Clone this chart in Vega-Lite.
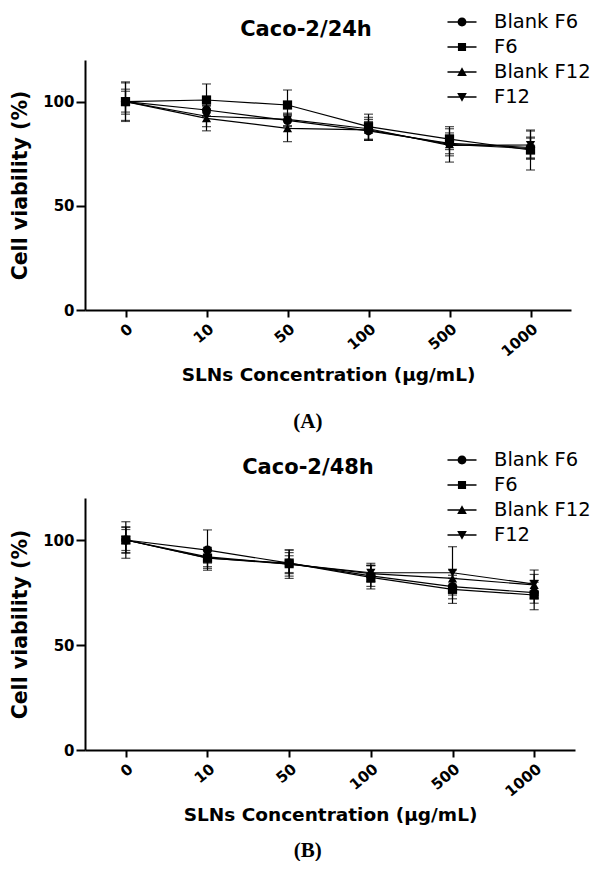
{
  "$schema": "https://vega.github.io/schema/vega-lite/v6.json",
  "background": "white",
  "padding": {"left": 10, "top": 12, "right": 0, "bottom": 0},
  "autosize": {"type": "pad"},
  "config": {
    "view": {"stroke": null},
    "axis": {"domainColor": "black", "domainWidth": 2, "tickColor": "black", "tickWidth": 2, "labelFont": "DejaVu Sans", "labelFontWeight": "bold", "labelFontSize": 15, "labelColor": "black", "titleFont": "DejaVu Sans", "titleFontWeight": "bold", "titleFontSize": 18.5, "titleColor": "black", "grid": false},
    "legend": {"symbolSize": 374, "labelFont": "DejaVu Sans", "labelFontSize": 19.5, "labelColor": "black", "labelOffset": 22, "rowPadding": 5, "padding": 0, "orient": "none", "symbolOpacity": 1, "symbolFillColor": "black", "symbolStrokeWidth": 0, "symbolStrokeColor": "transparent"},
    "title": {"color": "black"}
  },
  "datasets": {
    "a": [
      {"series": "Blank F6", "conc": 0, "mean": 100, "sd": 9},
      {"series": "Blank F6", "conc": 10, "mean": 96, "sd": 3},
      {"series": "Blank F6", "conc": 50, "mean": 91, "sd": 3},
      {"series": "Blank F6", "conc": 100, "mean": 86, "sd": 4.5},
      {"series": "Blank F6", "conc": 500, "mean": 80, "sd": 5},
      {"series": "Blank F6", "conc": 1000, "mean": 78, "sd": 5},
      {"series": "F6", "conc": 0, "mean": 100, "sd": 9.5},
      {"series": "F6", "conc": 10, "mean": 100.8, "sd": 7.7},
      {"series": "F6", "conc": 50, "mean": 98.4, "sd": 7.2},
      {"series": "F6", "conc": 100, "mean": 88, "sd": 6},
      {"series": "F6", "conc": 500, "mean": 82, "sd": 5},
      {"series": "F6", "conc": 1000, "mean": 76.8, "sd": 9.6},
      {"series": "Blank F12", "conc": 0, "mean": 100, "sd": 5},
      {"series": "Blank F12", "conc": 10, "mean": 92, "sd": 6},
      {"series": "Blank F12", "conc": 50, "mean": 87.2, "sd": 6.4},
      {"series": "Blank F12", "conc": 100, "mean": 86.5, "sd": 5},
      {"series": "Blank F12", "conc": 500, "mean": 79.5, "sd": 8.5},
      {"series": "Blank F12", "conc": 1000, "mean": 77.5, "sd": 5},
      {"series": "F12", "conc": 0, "mean": 100, "sd": 6},
      {"series": "F12", "conc": 10, "mean": 93, "sd": 5},
      {"series": "F12", "conc": 50, "mean": 91.5, "sd": 3},
      {"series": "F12", "conc": 100, "mean": 87, "sd": 5.5},
      {"series": "F12", "conc": 500, "mean": 79, "sd": 5},
      {"series": "F12", "conc": 1000, "mean": 79.2, "sd": 6.7}
    ],
    "b": [
      {"series": "Blank F6", "conc": 0, "mean": 100, "sd": 8.7},
      {"series": "Blank F6", "conc": 10, "mean": 95.2, "sd": 9.6},
      {"series": "Blank F6", "conc": 50, "mean": 89, "sd": 6.2},
      {"series": "Blank F6", "conc": 100, "mean": 82.9, "sd": 5},
      {"series": "Blank F6", "conc": 500, "mean": 77.8, "sd": 4},
      {"series": "Blank F6", "conc": 1000, "mean": 74.9, "sd": 5},
      {"series": "F6", "conc": 0, "mean": 100, "sd": 6},
      {"series": "F6", "conc": 10, "mean": 91.3, "sd": 4},
      {"series": "F6", "conc": 50, "mean": 89, "sd": 5},
      {"series": "F6", "conc": 100, "mean": 82.2, "sd": 5.5},
      {"series": "F6", "conc": 500, "mean": 76.5, "sd": 6.7},
      {"series": "F6", "conc": 1000, "mean": 73.8, "sd": 7},
      {"series": "Blank F12", "conc": 0, "mean": 100, "sd": 6.3},
      {"series": "Blank F12", "conc": 10, "mean": 92, "sd": 3},
      {"series": "Blank F12", "conc": 50, "mean": 88.5, "sd": 4},
      {"series": "Blank F12", "conc": 100, "mean": 84, "sd": 4},
      {"series": "Blank F12", "conc": 500, "mean": 81.7, "sd": 4},
      {"series": "Blank F12", "conc": 1000, "mean": 78.6, "sd": 5},
      {"series": "F12", "conc": 0, "mean": 100, "sd": 5},
      {"series": "F12", "conc": 10, "mean": 91.5, "sd": 5},
      {"series": "F12", "conc": 50, "mean": 88.5, "sd": 6.8},
      {"series": "F12", "conc": 100, "mean": 84.4, "sd": 4.5},
      {"series": "F12", "conc": 500, "mean": 84.4, "sd": 12.4},
      {"series": "F12", "conc": 1000, "mean": 79, "sd": 6.7}
    ]
  },
  "spacing": 18,
  "vconcat": [
    {
      "title": {"text": "(A)", "orient": "bottom", "font": "Liberation Serif", "fontSize": 21, "fontWeight": "bold", "anchor": "middle", "offset": 27, "dx": 7},
      "vconcat": [
        {
          "width": 486,
          "height": 250,
          "title": {"text": "Caco-2/24h", "font": "DejaVu Sans", "fontSize": 21, "fontWeight": "bold", "anchor": "middle", "frame": "group", "dx": -22, "offset": -28},
          "data": {"name": "a"},
          "encoding": {
            "x": {"field": "conc", "type": "ordinal", "scale": {"type": "point", "padding": 0.5}, "axis": {"title": "SLNs Concentration (µg/mL)", "labelAngle": -40, "tickSize": 7, "labelPadding": 4, "titlePadding": 6}},
            "y": {"field": "mean", "type": "quantitative", "scale": {"domain": [0, 120], "nice": false}, "axis": {"title": "Cell viability (%)", "titleFontSize": 20.5, "values": [0, 50, 100], "tickSize": 9, "labelPadding": 2, "titlePadding": 12}}
          },
          "resolve": {"scale": {"shape": "independent"}},
          "layer": [
            {"mark": {"type": "line", "color": "black", "strokeWidth": 1.2}, "encoding": {"detail": {"field": "series"}}},
            {"mark": {"type": "errorbar", "color": "black", "thickness": 1.2, "ticks": {"size": 9, "thickness": 1.2}}, "encoding": {"yError": {"field": "sd"}, "detail": {"field": "series"}}},
            {"mark": {"type": "point", "filled": true, "color": "black", "opacity": 1, "size": 85},
             "encoding": {"shape": {"field": "series", "type": "nominal", "scale": {"domain": ["Blank F6", "F6", "Blank F12", "F12"], "range": ["circle", "square", "triangle-up", "triangle-down"]}, "legend": null}}},
            {"mark": {"type": "point", "filled": true, "color": "black", "opacity": 0},
             "encoding": {"shape": {"field": "series", "type": "nominal",
               "scale": {"domain": ["Blank F6", "F6", "Blank F12", "F12"], "range": [
                 "M-1.5,-0.08H1.5V0.08H-1.5Z M-0.46,0A0.46,0.46 0 1,1 0.46,0A0.46,0.46 0 1,1 -0.46,0Z",
                 "M-1.5,-0.08H1.5V0.08H-1.5Z M-0.42,-0.42H0.42V0.42H-0.42Z",
                 "M-1.5,-0.08H1.5V0.08H-1.5Z M0,-0.5L0.5,0.42H-0.5Z",
                 "M-1.5,-0.08H1.5V0.08H-1.5Z M0,0.5L-0.5,-0.42H0.5Z"]},
               "legend": {"title": null, "orient": "none", "legendX": 367, "legendY": -48, "symbolOpacity": 1, "symbolFillColor": "black", "symbolStrokeWidth": 0}}}}
          ]
        }
      ]
    },
    {
      "title": {"text": "(B)", "orient": "bottom", "font": "Liberation Serif", "fontSize": 21, "fontWeight": "bold", "anchor": "middle", "offset": 16, "dx": 7},
      "vconcat": [
        {
          "width": 490,
          "height": 252,
          "title": {"text": "Caco-2/48h", "font": "DejaVu Sans", "fontSize": 21, "fontWeight": "bold", "anchor": "middle", "frame": "group", "dx": -22, "offset": -28},
          "data": {"name": "b"},
          "encoding": {
            "x": {"field": "conc", "type": "ordinal", "scale": {"type": "point", "padding": 0.5}, "axis": {"title": "SLNs Concentration (µg/mL)", "labelAngle": -40, "tickSize": 7, "labelPadding": 4, "titlePadding": 6}},
            "y": {"field": "mean", "type": "quantitative", "scale": {"domain": [0, 120], "nice": false}, "axis": {"title": "Cell viability (%)", "titleFontSize": 20.5, "values": [0, 50, 100], "tickSize": 9, "labelPadding": 2, "titlePadding": 12}}
          },
          "resolve": {"scale": {"shape": "independent"}},
          "layer": [
            {"mark": {"type": "line", "color": "black", "strokeWidth": 1.2}, "encoding": {"detail": {"field": "series"}}},
            {"mark": {"type": "errorbar", "color": "black", "thickness": 1.2, "ticks": {"size": 9, "thickness": 1.2}}, "encoding": {"yError": {"field": "sd"}, "detail": {"field": "series"}}},
            {"mark": {"type": "point", "filled": true, "color": "black", "opacity": 1, "size": 85},
             "encoding": {"shape": {"field": "series", "type": "nominal", "scale": {"domain": ["Blank F6", "F6", "Blank F12", "F12"], "range": ["circle", "square", "triangle-up", "triangle-down"]}, "legend": null}}},
            {"mark": {"type": "point", "filled": true, "color": "black", "opacity": 0},
             "encoding": {"shape": {"field": "series", "type": "nominal",
               "scale": {"domain": ["Blank F6", "F6", "Blank F12", "F12"], "range": [
                 "M-1.5,-0.08H1.5V0.08H-1.5Z M-0.46,0A0.46,0.46 0 1,1 0.46,0A0.46,0.46 0 1,1 -0.46,0Z",
                 "M-1.5,-0.08H1.5V0.08H-1.5Z M-0.42,-0.42H0.42V0.42H-0.42Z",
                 "M-1.5,-0.08H1.5V0.08H-1.5Z M0,-0.5L0.5,0.42H-0.5Z",
                 "M-1.5,-0.08H1.5V0.08H-1.5Z M0,0.5L-0.5,-0.42H0.5Z"]},
               "legend": {"title": null, "orient": "none", "legendX": 367, "legendY": -48, "symbolOpacity": 1, "symbolFillColor": "black", "symbolStrokeWidth": 0}}}}
          ]
        }
      ]
    }
  ]
}
